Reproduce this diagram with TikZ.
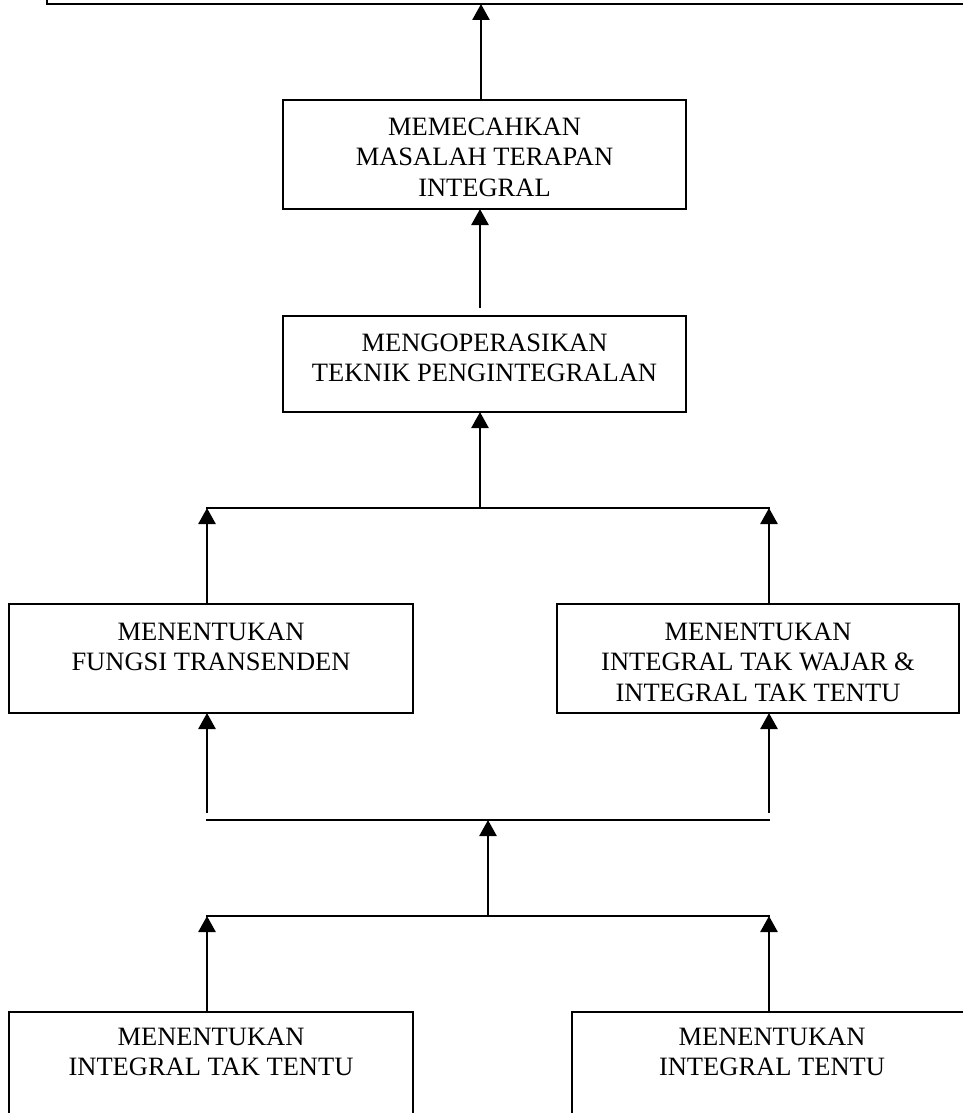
\documentclass[tikz,border=0pt]{standalone}
\usepackage{fontspec}
\setmainfont{Liberation Serif}
\usetikzlibrary{arrows.meta}
\tikzset{
  box/.style={draw, rectangle, line width=2.4pt, inner sep=0pt, outer sep=0pt},
  txt/.style={align=center, inner sep=0pt, anchor=north, font=\fontsize{26.5}{30.5}\selectfont},
  arr/.style={line width=2.6pt, -{Triangle[length=16pt,width=17pt]}},
  ln/.style={line width=2.4pt}
}
\begin{document}
\begin{tikzpicture}[x=1pt,y=-1pt]
\clip (0,0) rectangle (963,1113);
\fill[white] (0,0) rectangle (963,1113);
% boxes
\node[box, minimum width=953pt, minimum height=104pt] (top) at (523.5,-48) {};
\node[box, minimum width=403pt, minimum height=109pt] (b2) at (484.5,154.5) {};
\node[box, minimum width=403pt, minimum height=96pt] (b3) at (484.5,364) {};
\node[box, minimum width=404pt, minimum height=109pt] (bl) at (211,658.5) {};
\node[box, minimum width=402pt, minimum height=109pt] (br) at (758,658.5) {};
\node[box, minimum width=404pt, minimum height=109pt] (bbl) at (211,1066.5) {};
\node[box, minimum width=400pt, minimum height=109pt] (bbr) at (772,1066.5) {};
% texts
\node[txt] (t2) at ([yshift=-17.5pt]b2.north) {MEMECAHKAN\\MASALAH TERAPAN\\INTEGRAL};
\node[txt] (t3) at ([yshift=-17.5pt]b3.north) {MENGOPERASIKAN\\TEKNIK PENGINTEGRALAN};
\node[txt] (tl) at ([yshift=-18.5pt]bl.north) {MENENTUKAN\\FUNGSI TRANSENDEN};
\node[txt] (tr) at ([yshift=-18.5pt]br.north) {MENENTUKAN\\INTEGRAL TAK WAJAR \&\\INTEGRAL TAK TENTU};
\node[txt] (tbl) at ([yshift=-15.5pt]bbl.north) {MENENTUKAN\\INTEGRAL TAK TENTU};
\node[txt] (tbr) at ([yshift=-15.5pt]bbr.north) {MENENTUKAN\\INTEGRAL TENTU};
% bus coordinates
\coordinate (h1l) at (206,508);
\coordinate (h1r) at (770,508);
\coordinate (a1l) at (207,508);
\coordinate (a1r) at (769,508);
\coordinate (h1m) at (480,508);
\coordinate (h2l) at (206,820);
\coordinate (h2r) at (770,820);
\coordinate (a2l) at (207,813);
\coordinate (a2r) at (769,813);
\coordinate (h2m) at (488,820);
\coordinate (h3l) at (206,916);
\coordinate (h3r) at (770,916);
\coordinate (a3l) at (207,916);
\coordinate (a3r) at (769,916);
\coordinate (h3m) at (488,916);
\coordinate (s3) at (480,308);
% connectors
\draw[arr] ([xshift=-3.5pt]b2.north) -- ([xshift=-3.5pt]b2.north |- top.south);
\draw[arr] (s3) -- (s3 |- b2.south);
\draw[ln] (h1l) -- (h1r);
\draw[arr] (h1m) -- (h1m |- b3.south);
\draw[arr] (bl.north -| a1l) -- (a1l);
\draw[arr] (br.north -| a1r) -- (a1r);
\draw[arr] (a2l) -- (a2l |- bl.south);
\draw[arr] (a2r) -- (a2r |- br.south);
\draw[ln] (h2l) -- (h2r);
\draw[arr] (h3m) -- (h2m);
\draw[ln] (h3l) -- (h3r);
\draw[arr] (bbl.north -| a3l) -- (a3l);
\draw[arr] (bbr.north -| a3r) -- (a3r);
\end{tikzpicture}
\end{document}
